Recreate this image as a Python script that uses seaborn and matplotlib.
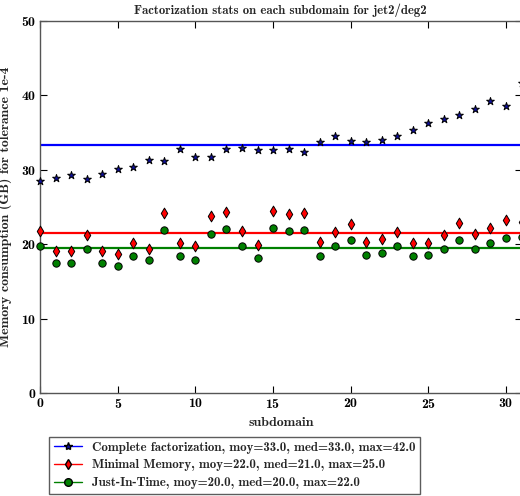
import numpy as np
import pandas as pd
import matplotlib
matplotlib.use('Agg')
import matplotlib.pyplot as plt
from matplotlib.lines import Line2D
import seaborn as sns

# -------------------------------
# DATA
# -------------------------------
subdomains = list(range(32))
complete_fact = [28.4, 28.9, 29.3, 28.7, 29.4, 30.1, 30.4, 31.3, 31.2, 32.8,
                 31.7, 31.7, 32.7, 32.9, 32.6, 32.6, 32.8, 32.3, 33.7, 34.5,
                 33.8, 33.7, 34.0, 34.5, 35.3, 36.2, 36.8, 37.3, 38.1, 39.2,
                 38.6, 41.6]
minimal_memory = [21.8, 19.1, 19.0, 21.2, 19.0, 18.6, 20.1, 19.4, 24.2, 20.1,
                  19.7, 23.8, 24.3, 21.7, 19.9, 24.5, 24.1, 24.2, 20.3, 21.6,
                  22.7, 20.3, 20.7, 21.6, 20.2, 20.2, 21.2, 22.8, 21.3, 22.1,
                  23.2, 23.0]
just_in_time = [19.8, 17.5, 17.4, 19.4, 17.4, 17.1, 18.4, 17.8, 21.9, 18.4,
                17.9, 21.4, 22.0, 19.7, 18.1, 22.2, 21.8, 21.9, 18.4, 19.7,
                20.6, 18.5, 18.8, 19.8, 18.4, 18.5, 19.3, 20.6, 19.4, 20.1,
                20.8, 21.0]

labels = [
    "Complete factorization, moy=33.0, med=33.0, max=42.0",
    "Minimal Memory, moy=22.0, med=21.0, max=25.0",
    "Just-In-Time, moy=20.0, med=20.0, max=22.0",
]
series = [complete_fact, minimal_memory, just_in_time]
markers = ["*", "d", "o"]
face_colors = ["#1010a0", "#ff0000", "#008000"]
line_colors = ["#0000ff", "#ff0000", "#008000"]
marker_sizes = [34, 30, 28]
legend_marker_sizes = [6, 5.5, 5.5]

# -------------------------------
# STYLE
# -------------------------------
sns.set_theme(style="ticks")
plt.rcParams['font.family'] = ['cmb10', 'DejaVu Serif']
plt.rcParams['axes.formatter.use_mathtext'] = True
plt.rcParams['xtick.direction'] = 'in'
plt.rcParams['ytick.direction'] = 'in'
plt.rcParams['xtick.top'] = True
plt.rcParams['ytick.right'] = True

fig = plt.figure(figsize=(5.2, 4.96), dpi=100)
ax = fig.add_axes([0.077, 0.2077, 0.926, 0.7507])

for vals, mk, fc, lc, ms in zip(series, markers, face_colors, line_colors, marker_sizes):
    df = pd.DataFrame({"subdomain": subdomains, "mem": vals})
    sns.scatterplot(data=df, x="subdomain", y="mem", marker=mk, s=ms,
                    color=fc, edgecolor="black", linewidth=0.7, ax=ax,
                    zorder=3, clip_on=False)
    ax.plot([subdomains[0], subdomains[-1]], [np.mean(vals)] * 2,
            color=lc, linewidth=1.6, zorder=2)

ax.set_xlim(0, 31)
ax.set_ylim(0, 50)
ax.set_xticks([0, 5, 10, 15, 20, 25, 30])
ax.set_yticks([0, 10, 20, 30, 40, 50])
ax.tick_params(labelsize=10, length=5, width=0.8, colors="black", pad=3)
for sp in ax.spines.values():
    sp.set_color("#555555")
    sp.set_linewidth(1.0)

ax.set_title("Factorization stats on each subdomain for jet2/deg2", fontsize=9.2, pad=5)
ax.set_xlabel("subdomain", fontsize=10, labelpad=4)
ax.set_ylabel("Memory consumption (GB) for tolerance 1e-4", fontsize=10, labelpad=6)

handles = [
    Line2D([], [], color=lc, marker=mk, markerfacecolor=fc, markeredgecolor="black",
           markersize=lms, linewidth=1)
    for mk, fc, lc, lms in zip(markers, face_colors, line_colors, legend_marker_sizes)
]
leg = fig.legend(handles, labels, loc="upper left",
                 bbox_to_anchor=(49 / 520, 1 - 437 / 496), fontsize=9.3,
                 fancybox=False, frameon=True, borderaxespad=0,
                 handlelength=2.2, labelspacing=0.45, borderpad=0.35)
leg.get_frame().set_edgecolor("#333333")
leg.get_frame().set_linewidth(1.0)

fig.savefig("out.png", dpi=100)
